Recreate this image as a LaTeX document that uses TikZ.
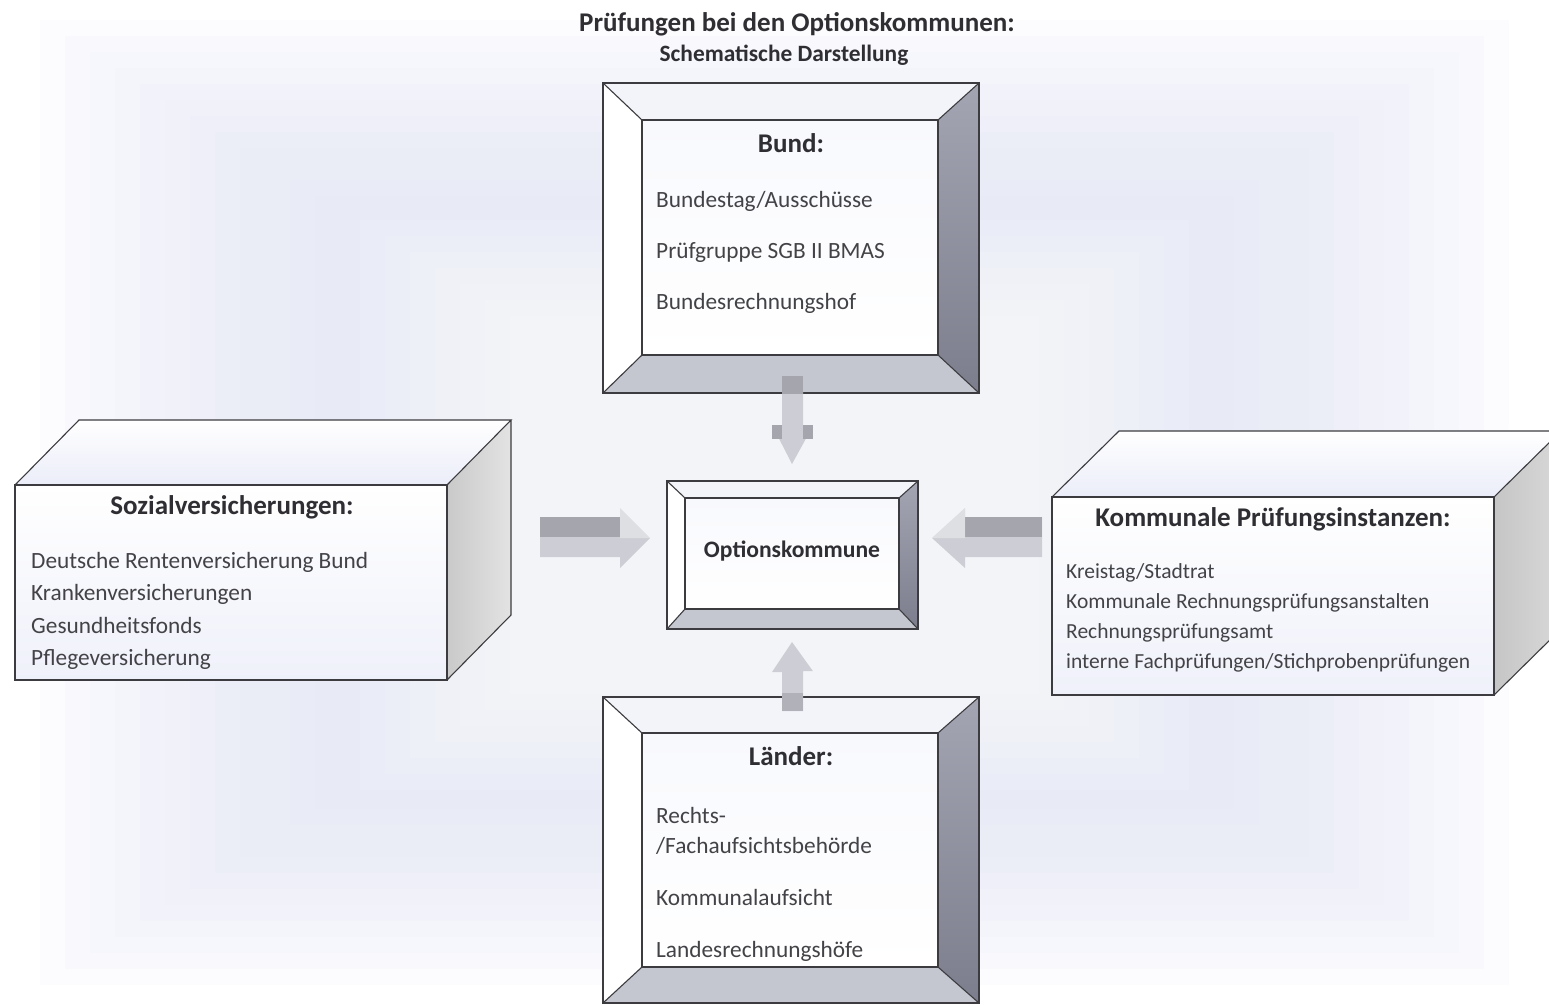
\documentclass[tikz,border=0pt]{standalone}
\usepackage{fontspec}
\setmainfont{Carlito}
\usetikzlibrary{calc,fit}
\definecolor{edgec}{HTML}{3C3C40}
\definecolor{bevlight}{HTML}{F3F4F9}
\definecolor{bevrightT}{HTML}{A3A5B3}
\definecolor{bevrightB}{HTML}{7C7E8D}
\definecolor{bevbot}{HTML}{C4C6D0}
\definecolor{facec}{HTML}{F8F9FD}
\definecolor{lav}{HTML}{E2E5F6}
\definecolor{txt}{HTML}{2E2E33}
\definecolor{arrA}{HTML}{A4A5AD}
\definecolor{arrB}{HTML}{CDCED5}
\tikzset{
  edgeline/.style={draw=edgec, line width=1.6pt},
  inline/.style={draw=edgec, line width=1.1pt},
  hdr/.style={font=\bfseries\fontsize{27}{31}\selectfont, text=txt, inner sep=0pt},
  itm/.style={font=\fontsize{23.3}{27}\selectfont, text=txt!90, inner sep=0pt, anchor=base west},
  itms/.style={font=\fontsize{21.5}{25}\selectfont, text=txt!90, inner sep=0pt, anchor=base west},
}
\newcommand\bevbox[9]{%
  \fill[bevlight] (#2,#3) -- (#4,#3) -- (#8,#7) -- (#6,#7) -- cycle;
  \fill[white] (#2,#3) -- (#6,#7) -- (#6,#9) -- (#2,#5) -- cycle;
  \shade[top color=bevrightT, bottom color=bevrightB] (#4,#3) -- (#4,#5) -- (#8,#9) -- (#8,#7) -- cycle;
  \fill[bevbot] (#2,#5) -- (#4,#5) -- (#8,#9) -- (#6,#9) -- cycle;
  \shade[top color=facec, bottom color=white] (#6,#7) rectangle (#8,#9);
  \node[edgeline, inner sep=0pt, fit={(#2,#3)(#4,#5)}] (#1) {};
  \draw[inline] (#6,#7) rectangle (#8,#9);
  \draw[inline] (#2,#3) -- (#6,#7) (#4,#3) -- (#8,#7) (#4,#5) -- (#8,#9) (#2,#5) -- (#6,#9);
}
\begin{document}
\begin{tikzpicture}[x=1pt,y=-1pt]
\useasboundingbox (0,0) rectangle (1549,1005);
\clip (0,0) rectangle (1549,1005);
% background: soft lavender bands
\fill[white] (0,0) rectangle (1549,1005);
\foreach \i in {0,...,11}{
  \fill[lav, opacity=0.09] ({40+25*\i},{20+16*\i}) rectangle ({1509-25*\i},{985-16*\i});
}
\foreach \i in {0,...,6}{
  \fill[white, opacity=0.12] ({360+25*\i},{220+16*\i}) rectangle ({1189-25*\i},{790-16*\i});
}
% title
\node[hdr, anchor=base] (title) at (797,31) {Prüfungen bei den Optionskommunen:};
\node[font=\bfseries\fontsize{23.4}{27}\selectfont, text=txt, inner sep=0pt, anchor=base] (subtitle) at (784,61) {Schematische Darstellung};

% Bund box
\bevbox{bund}{603}{83}{979}{393}{642}{120}{938}{355}
\node[hdr, anchor=base] (bundT) at (791,152) {Bund:};
\node[itm] (b1) at (656,207) {Bundestag/Ausschüsse};
\node[itm] (b2) at (656,258) {Prüfgruppe SGB II BMAS};
\node[itm] (b3) at (656,309) {Bundesrechnungshof};

% Optionskommune
\bevbox{oko}{667}{481}{918}{629}{685}{498}{899}{609}
\node[font=\bfseries\fontsize{23.6}{27}\selectfont, text=txt, inner sep=0pt, anchor=base] (okoT) at (792,557) {Optionskommune};

% Länder box
\bevbox{laender}{603}{697}{979}{1003}{642}{733}{938}{967}
\node[hdr, anchor=base] (lT) at (791,765) {Länder:};
\node[itm] (l1) at (656,823) {Rechts-};
\node[itm] (l2) at (656,853) {/Fachaufsichtsbehörde};
\node[itm] (l3) at (656,905) {Kommunalaufsicht};
\node[itm] (l4) at (656,957) {Landesrechnungshöfe};

% Sozialversicherungen cuboid
\shade[top color=white, bottom color=lav!70] (15,485) -- (79,420) -- (511,420) -- (447,485) -- cycle;
\shade[left color=gray!42, right color=gray!22] (447,485) -- (511,420) -- (511,615) -- (447,680) -- cycle;
\shade[top color=white, bottom color=lav!55] (15,485) rectangle (447,680);
\draw[inline] (15,485) -- (79,420) -- (511,420) -- (447,485) (511,420) -- (511,615) -- (447,680);
\node[edgeline, inner sep=0pt, fit={(15,485)(447,680)}] (sozial) {};
\node[hdr, anchor=base] (sT) at (232,514) {Sozialversicherungen:};
\node[itm] (s1) at (31,568) {Deutsche Rentenversicherung Bund};
\node[itm] (s2) at (31,600) {Krankenversicherungen};
\node[itm] (s3) at (31,633) {Gesundheitsfonds};
\node[itm] (s4) at (31,665) {Pflegeversicherung};

% Kommunale cuboid
\shade[top color=white, bottom color=lav!70] (1052,497) -- (1119,431) -- (1561,431) -- (1494,497) -- cycle;
\shade[left color=gray!45, right color=gray!30] (1494,497) -- (1561,431) -- (1561,629) -- (1494,695) -- cycle;
\shade[top color=white, bottom color=lav!55] (1052,497) rectangle (1494,695);
\draw[inline] (1052,497) -- (1119,431) -- (1561,431) -- (1494,497) (1561,431) -- (1561,629) -- (1494,695);
\node[edgeline, inner sep=0pt, fit={(1052,497)(1494,695)}] (kommunal) {};
\node[hdr, anchor=base] (kT) at (1273,526) {Kommunale Prüfungsinstanzen:};
\node[itms] (k1) at (1066,578) {Kreistag/Stadtrat};
\node[itms] (k2) at (1066,608) {Kommunale Rechnungsprüfungsanstalten};
\node[itms] (k3) at (1066,638) {Rechnungsprüfungsamt};
\node[itms] (k4) at (1066,668) {interne Fachprüfungen/Stichprobenprüfungen};

% block arrows
\coordinate (tipN) at (792,464);
\coordinate (tipS) at (792,642);
\coordinate (tipW) at (650,538);
\coordinate (tipE) at (932,538);
% down arrow from Bund
\fill[arrB] (bund.south -| tipN) ++(-10,-18) -- ++(21,0) -- ++(0,50) -- ++(10,0) -- (tipN) -- ++(-20,-39) -- ++(10,0) -- cycle;
\fill[arrA] (bund.south -| tipN) ++(-10,-18) rectangle ++(21,18);
\fill[arrA] ($(tipN)+(-20,-39)$) rectangle ++(10,14);
\fill[arrA] ($(tipN)+(11,-39)$) rectangle ++(10,14);
% up arrow from Länder
\fill[arrB] (laender.north -| tipS) ++(-10,15) -- ++(21,0) -- ++(0,-40) -- ++(10,0) -- (tipS) -- ++(-20,30) -- ++(10,0) -- cycle;
\fill[arrA!70!arrB] (laender.north -| tipS) ++(-10,15) rectangle ++(21,-18);
% right-pointing arrow from Sozial
\fill[arrB] (540,517) -- (620,517) -- (620,508) -- (tipW) -- (620,568) -- (620,557) -- (540,557) -- cycle;
\fill[arrA] (540,517) rectangle (620,537);
\fill[white, opacity=0.35] (620,508) -- (tipW) -- (620,538) -- cycle;
% left-pointing arrow from Kommunal
\fill[arrB] (1042,517) -- (965,517) -- (965,508) -- (tipE) -- (965,568) -- (965,557) -- (1042,557) -- cycle;
\fill[arrA] (965,517) rectangle (1042,537);
\fill[white, opacity=0.35] (965,508) -- (tipE) -- (965,538) -- cycle;
\end{tikzpicture}
\end{document}
